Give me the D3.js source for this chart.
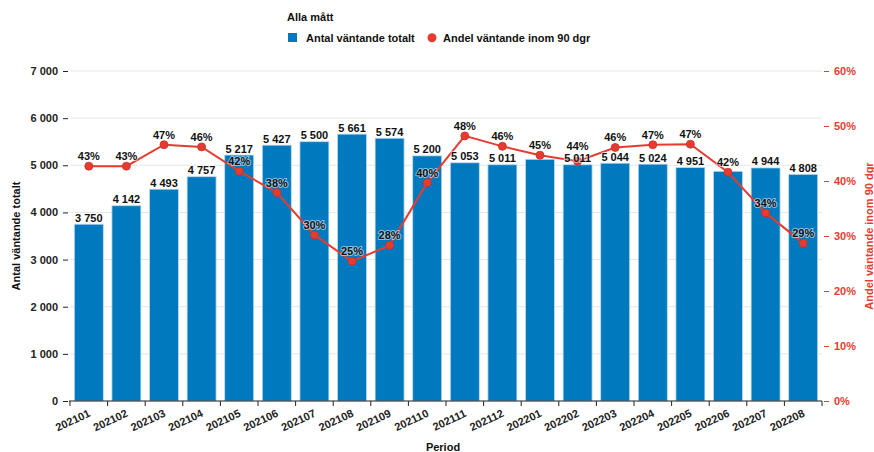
<!DOCTYPE html>
<html>
<head>
<meta charset="utf-8">
<script src="https://cdn.jsdelivr.net/npm/d3@7"></script>
<style>
  html, body { margin: 0; padding: 0; background: #fff; }
  svg { display: block; font-family: "Liberation Sans", Arial, sans-serif; font-weight: bold; }
  .halo { paint-order: stroke; stroke: rgba(255,255,255,0.55); stroke-width: 2px; stroke-linejoin: round; }
</style>
</head>
<body>
<svg id="chart" width="874" height="452"></svg>
<script>
// Monthly periods
const periods = ["202101","202102","202103","202104","202105","202106","202107","202108","202109","202110",
                 "202111","202112","202201","202202","202203","202204","202205","202206","202207","202208"];
// Antal väntande totalt
const totalWaiting = [3750, 4142, 4493, 4757, 5217, 5427, 5500, 5661, 5574, 5200,
                      5053, 5011, 5127, 5011, 5044, 5024, 4951, 4872, 4944, 4808];
// Andel väntande inom 90 dgr (labels show the rounded percentage)
const shareWithin90 = [0.427, 0.427, 0.466, 0.462, 0.418, 0.379, 0.302, 0.254, 0.283, 0.397,
                       0.482, 0.463, 0.447, 0.436, 0.461, 0.466, 0.467, 0.416, 0.342, 0.287];
// Periods whose bar label is suppressed because it collides with the line label
const suppressedBarLabels = ["202201", "202206"];
// Axis ticks
const leftTicks = [0, 1000, 2000, 3000, 4000, 5000, 6000, 7000];
const rightTicks = [0, 0.1, 0.2, 0.3, 0.4, 0.5, 0.6];

const barColor = "#0079BE";
const lineColor = "#E63C2F";

const svg = d3.select("#chart");
const plotLeft = 70, plotRight = 822, plotTop = 71, plotBottom = 401;

const x = d3.scaleBand().domain(periods).range([plotLeft, plotRight]).paddingInner(0.23).paddingOuter(0.115);
const yL = d3.scaleLinear().domain([0, 7000]).range([plotBottom, plotTop]);
const yR = d3.scaleLinear().domain([0, 0.6]).range([plotBottom, plotTop]);

const fmtNum = v => d3.format(",")(v).replace(/,/g, " ");
const fmtPct = d3.format(".0%");
const cx = p => x(p) + x.bandwidth() / 2;

// Gridlines
svg.append("g").selectAll("line").data(leftTicks.slice(1)).join("line")
  .attr("x1", plotLeft).attr("x2", plotRight)
  .attr("y1", d => yL(d)).attr("y2", d => yL(d))
  .attr("stroke", "#e6e6e6").attr("stroke-width", 1);

// Bars
svg.append("g").selectAll("rect").data(periods).join("rect")
  .attr("x", d => x(d))
  .attr("y", (d, i) => yL(totalWaiting[i]))
  .attr("width", x.bandwidth())
  .attr("height", (d, i) => plotBottom - yL(totalWaiting[i]))
  .attr("fill", barColor)
  .attr("stroke", "#bcd9ee").attr("stroke-width", 0.8);

// Left axis
const axL = svg.append("g").attr("transform", `translate(${plotLeft - 2},0)`)
  .call(d3.axisLeft(yL).tickValues(leftTicks).tickFormat(fmtNum).tickSize(5).tickPadding(5));
axL.select(".domain").remove();
axL.selectAll("text").attr("font-size", 11).attr("fill", "#222").attr("font-weight", "bold").attr("font-family", null);
axL.selectAll("line").attr("stroke", "#222");

// Right axis
const axR = svg.append("g").attr("transform", `translate(${plotRight + 2},0)`)
  .call(d3.axisRight(yR).tickValues(rightTicks).tickFormat(fmtPct).tickSize(5).tickPadding(5));
axR.select(".domain").remove();
axR.selectAll("text").attr("font-size", 11).attr("fill", lineColor).attr("font-weight", "bold").attr("font-family", null);
axR.selectAll("line").attr("stroke", lineColor);

// Bottom axis with ticks on band edges
const axB = svg.append("g").attr("transform", `translate(0,${plotBottom})`);
axB.append("line").attr("x1", plotLeft - 1).attr("x2", plotRight).attr("stroke", "#222").attr("stroke-width", 1.2);
const step = x.step();
axB.selectAll("line.tk").data(d3.range(periods.length + 1)).join("line").attr("class", "tk")
  .attr("x1", i => plotLeft + i * step).attr("x2", i => plotLeft + i * step)
  .attr("y1", 0).attr("y2", 5).attr("stroke", "#222");
axB.selectAll("text").data(periods).join("text")
  .attr("class", "halo")
  .attr("transform", d => `translate(${cx(d) - 1},${8}) rotate(-25)`)
  .attr("text-anchor", "end")
  .attr("dy", "0.7em")
  .attr("font-size", 11).attr("fill", "#222")
  .text(d => d);

// Line series
const line = d3.line().x((d, i) => cx(periods[i])).y(d => yR(d));
svg.append("path").datum(shareWithin90)
  .attr("d", line).attr("fill", "none").attr("stroke", lineColor).attr("stroke-width", 2);
svg.append("g").selectAll("circle").data(shareWithin90).join("circle")
  .attr("cx", (d, i) => cx(periods[i]))
  .attr("cy", d => yR(d)).attr("r", 4)
  .attr("fill", lineColor).attr("stroke", "#c9302a").attr("stroke-width", 0.8);

// Bar value labels
const barLabels = svg.append("g").selectAll("text")
  .data(periods.map((p, i) => ({ p, v: totalWaiting[i] })).filter(d => !suppressedBarLabels.includes(d.p)))
  .join("text")
  .attr("class", "halo")
  .attr("x", d => cx(d.p))
  .attr("y", d => yL(d.v) - 2.5)
  .attr("text-anchor", "middle").attr("font-size", 11).attr("fill", "#111")
  .text(d => fmtNum(d.v));

// Percentage labels
const pctLabels = svg.append("g").selectAll("text")
  .data(shareWithin90.map((v, i) => ({ p: periods[i], v })))
  .join("text")
  .attr("class", "halo")
  .attr("x", d => cx(d.p))
  .attr("y", d => yR(d.v) - 6)
  .attr("text-anchor", "middle").attr("font-size", 11).attr("fill", "#111")
  .text(d => fmtPct(d.v));

// Lift a percentage label that sits on top of the bar label of the same period
const barBoxes = new Map();
barLabels.each(function (d) { barBoxes.set(d.p, this.getBBox()); });
pctLabels.each(function (d) {
  const b = barBoxes.get(d.p);
  if (!b) return;
  const a = this.getBBox();
  const overlap = (a.y + a.height) - b.y;
  if (a.y < b.y && overlap > 0) {
    d3.select(this).attr("y", +d3.select(this).attr("y") - overlap - 0.5);
  }
});

// Axis titles
svg.append("text").attr("transform", "translate(20,236) rotate(-90)")
  .attr("text-anchor", "middle").attr("font-size", 11).attr("fill", "#111")
  .text("Antal väntande totalt");
svg.append("text").attr("transform", "translate(873,236) rotate(-90)")
  .attr("text-anchor", "middle").attr("font-size", 11).attr("fill", lineColor)
  .text("Andel väntande inom 90 dgr");
svg.append("text").attr("x", 443).attr("y", 451)
  .attr("text-anchor", "middle").attr("font-size", 11).attr("fill", "#111")
  .text("Period");

// Legend
const lg = svg.append("g");
lg.append("text").attr("x", 287).attr("y", 21).attr("font-size", 11).attr("fill", "#111").text("Alla mått");
lg.append("rect").attr("x", 288).attr("y", 33).attr("width", 9).attr("height", 9).attr("fill", barColor);
lg.append("text").attr("x", 306).attr("y", 42).attr("font-size", 11).attr("fill", "#111").text("Antal väntande totalt");
lg.append("circle").attr("cx", 432).attr("cy", 37.7).attr("r", 4.5).attr("fill", lineColor);
lg.append("text").attr("x", 443).attr("y", 42).attr("font-size", 11).attr("fill", "#111").text("Andel väntande inom 90 dgr");
</script>
</body>
</html>
